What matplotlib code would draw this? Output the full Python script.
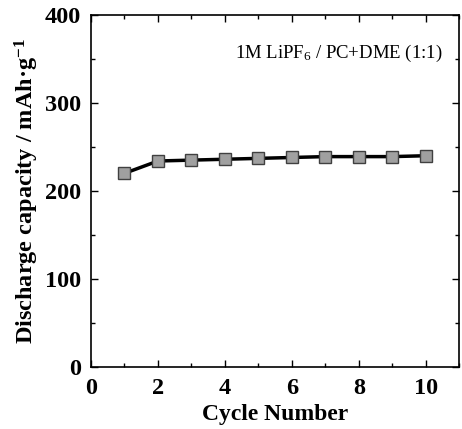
import matplotlib
matplotlib.use("Agg")
from matplotlib import pyplot as plt
from matplotlib.ticker import MultipleLocator

cycles = [1, 2, 3, 4, 5, 6, 7, 8, 9, 10]
capacity = [220, 234, 235, 236, 237, 238, 239, 239, 239, 240]

plt.rcParams['font.family'] = ['Liberation Serif', 'DejaVu Serif']
plt.rcParams['mathtext.fontset'] = 'custom'
plt.rcParams['mathtext.rm'] = 'Liberation Serif'
plt.rcParams['mathtext.it'] = 'Liberation Serif'
plt.rcParams['mathtext.bf'] = 'Liberation Serif:bold'

fig = plt.figure(figsize=(4.62, 4.29), dpi=100)
ax = fig.add_axes([0.197, 0.145, 0.797, 0.82])

ax.plot(cycles, capacity, color='black', linewidth=2.5, marker='s',
        markersize=8, markerfacecolor='#a0a0a0', markeredgecolor='#404040',
        markeredgewidth=1)

ax.set_xlim(0, 11)
ax.set_ylim(0, 400)
ax.xaxis.set_major_locator(MultipleLocator(2))
ax.xaxis.set_minor_locator(MultipleLocator(1))
ax.yaxis.set_major_locator(MultipleLocator(100))
ax.yaxis.set_minor_locator(MultipleLocator(50))
ax.tick_params(which='both', direction='in', top=True, right=True, width=1)
ax.tick_params(which='major', length=5, labelsize=17.5)
ax.tick_params(axis='x', which='major', pad=8)
ax.tick_params(axis='y', which='major', pad=7)
ax.tick_params(which='minor', length=3)
ax.set_xticks([0, 2, 4, 6, 8, 10])
for lab in ax.get_xticklabels() + ax.get_yticklabels():
    lab.set_fontweight('bold')
for sp in ax.spines.values():
    sp.set_linewidth(1.2)

ax.set_xlabel('Cycle Number', fontsize=17, fontweight='bold', labelpad=4)
ax.set_ylabel('Discharge capacity / mAh\u00b7g$^{\\mathbf{-1}}$', fontsize=17.5,
              fontweight='bold', labelpad=3)
ax.text(0.955, 0.89, r'1M LiPF$_6$ / PC+DME (1:1)', transform=ax.transAxes,
        ha='right', va='center', fontsize=13.5)

fig.savefig('out.png', dpi=100)
